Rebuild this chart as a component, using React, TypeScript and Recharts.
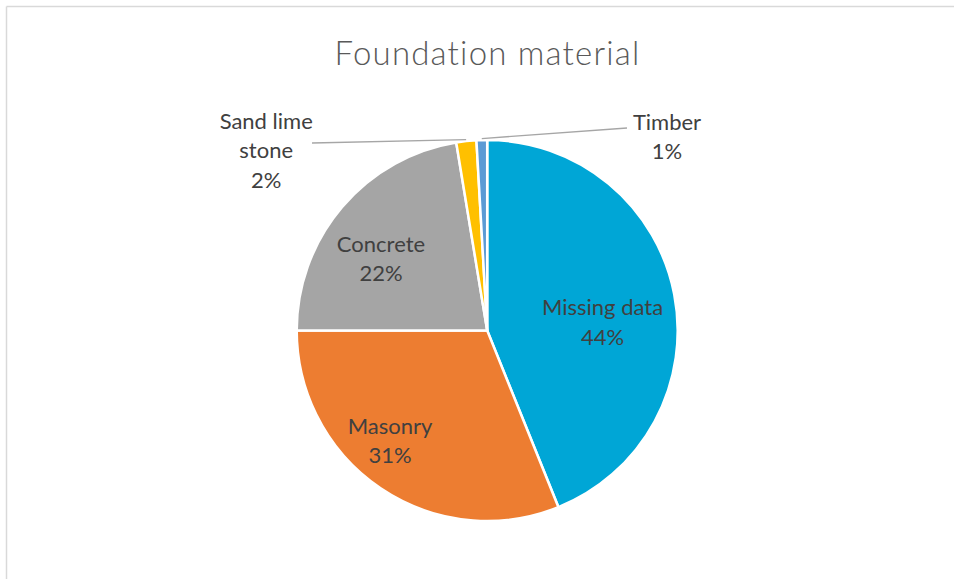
import React from 'react';
import { PieChart, Pie, Cell } from 'recharts';

// ---- data ----
const categories = ['Missing data', 'Masonry', 'Concrete', 'Sand lime stone', 'Timber'];
const shares = [43.9, 31.1, 22.4, 1.7, 0.9];
const sliceColors = ['#00A6D6', '#ED7D31', '#A5A5A5', '#FFC000', '#5B9BD5'];
const labelText: string[][] = [['Missing data'], ['Masonry'], ['Concrete'], ['Sand lime', 'stone'], ['Timber']];
const chartTitle = 'Foundation material';

const data = categories.map((name, i) => ({ name, value: shares[i], idx: i }));

// ---- label layout (relative to pie centre) ----
type Layout = { dx: number; dy: number; end?: [number, number] };
const labelLayout: Layout[] = [
  { dx: 115.3, dy: -15.5 },
  { dx: -97.2, dy: 103 },
  { dx: -106.2, dy: -79 },
  { dx: -221, dy: -202, end: [-175.2, -187.5] },
  { dx: 179.8, dy: -201, end: [139.8, -202.5] },
];

const FONT = 'Lato, Carlito, Calibri, sans-serif';
const LINE_H = 29.5;
const RAD = Math.PI / 180;

const renderLabel = (props: any) => {
  const { cx, cy, midAngle, outerRadius, percent, payload } = props;
  const i = payload?.idx ?? props.index;
  const lay = labelLayout[i];
  const lines = [...labelText[i], `${Math.round(percent * 100)}%`];
  const x = cx + lay.dx;
  const y0 = cy + lay.dy;
  let leader = null;
  if (lay.end) {
    const r = outerRadius + 1.5;
    const sx = cx + r * Math.cos(-midAngle * RAD);
    const sy = cy + r * Math.sin(-midAngle * RAD);
    leader = (
      <line x1={sx} y1={sy} x2={cx + lay.end[0]} y2={cy + lay.end[1]} stroke="#A6A6A6" strokeWidth={1.3} />
    );
  }
  return (
    <g key={`lbl-${i}`}>
      {leader}
      <text textAnchor="middle" fontFamily={FONT} fontSize={22} fill="#404040">
        {lines.map((t, k) => (
          <tspan key={k} x={x} y={y0 + k * LINE_H}>
            {t}
          </tspan>
        ))}
      </text>
    </g>
  );
};

export default function App() {
  return (
    <div style={{ position: 'absolute', left: 0, top: 0, width: 954, height: 579, background: '#fff', overflow: 'hidden' }}>
      <svg width={954} height={579} style={{ position: 'absolute', left: 0, top: 0 }}>
        <line x1={6.5} y1={6.5} x2={954} y2={6.5} stroke="#D9D9D9" strokeWidth={1.5} />
        <line x1={6.5} y1={6.5} x2={6.5} y2={579} stroke="#D9D9D9" strokeWidth={1.5} />
        <text x={487.5} y={64.5} textAnchor="middle" fontFamily={FONT} fontWeight={300} fontSize={33} letterSpacing={1.2} fill="#595959">
          {chartTitle}
        </text>
      </svg>
      <div style={{ position: 'absolute', left: 0, top: 0 }}>
        <PieChart width={954} height={579} margin={{ top: 0, right: 0, bottom: 0, left: 0 }}>
          <Pie
            data={data}
            dataKey="value"
            nameKey="name"
            cx={487.2}
            cy={330.5}
            outerRadius={190.5}
            startAngle={90}
            endAngle={-270}
            stroke="#FFFFFF"
            strokeWidth={2.5}
            isAnimationActive={false}
            labelLine={false}
            label={renderLabel}
          >
            {data.map((d, i) => (
              <Cell key={d.name} fill={sliceColors[i]} />
            ))}
          </Pie>
        </PieChart>
      </div>
    </div>
  );
}
